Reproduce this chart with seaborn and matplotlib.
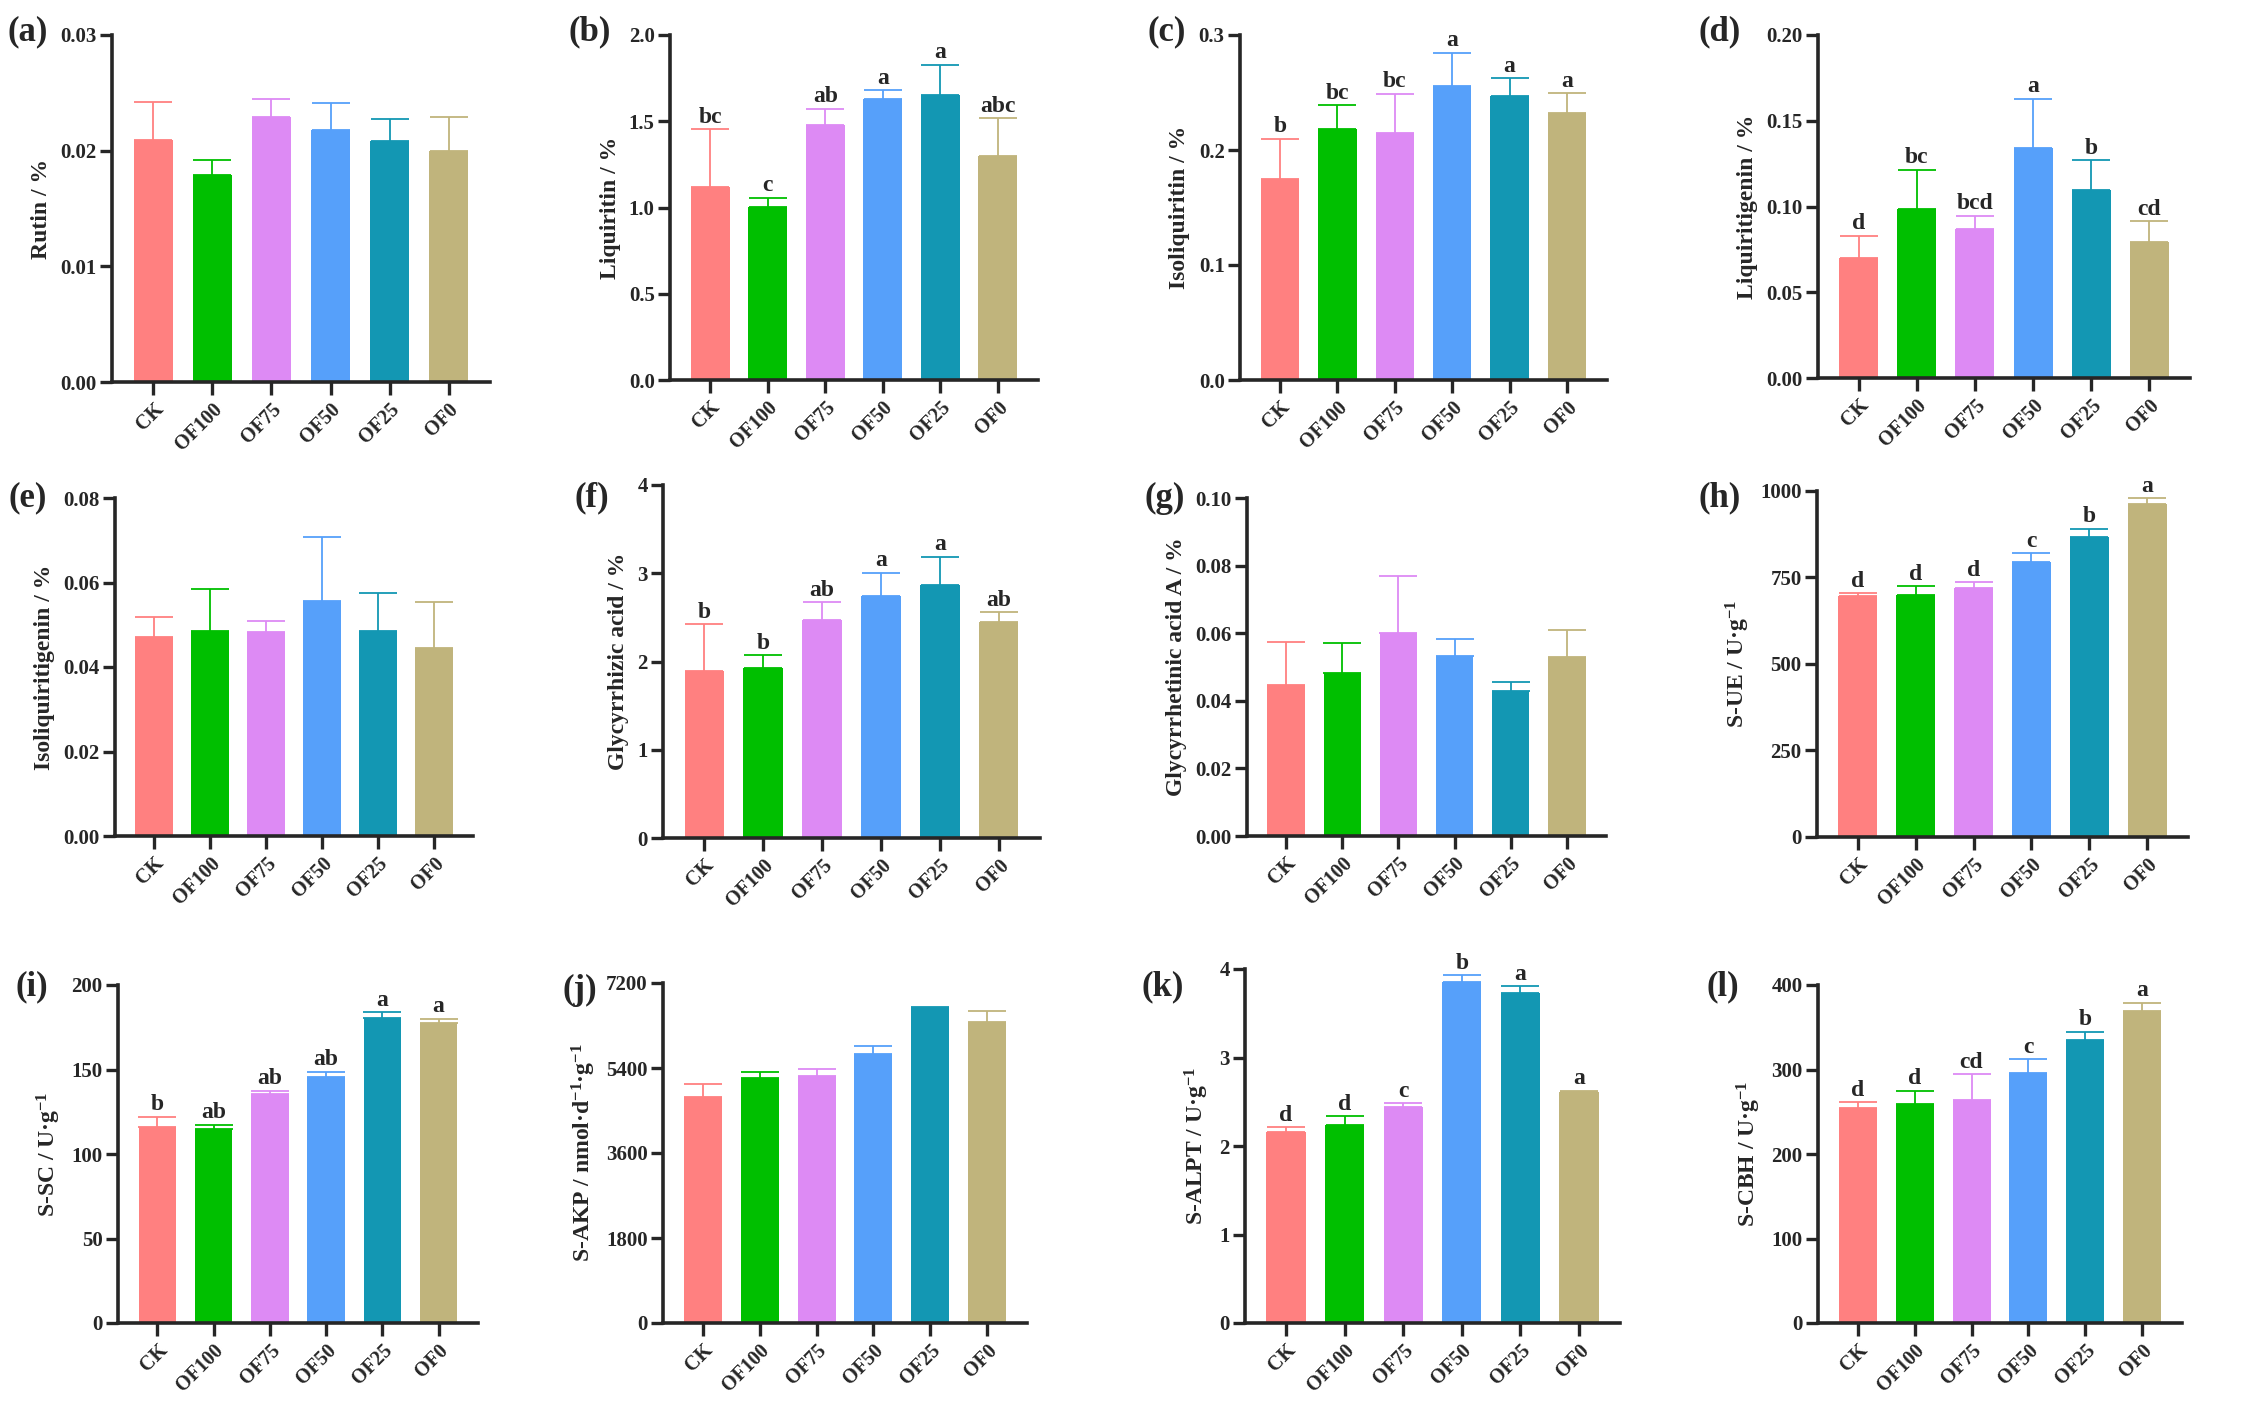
import numpy as np
import pandas as pd
import seaborn as sns
import matplotlib
matplotlib.use("Agg")
import matplotlib.pyplot as plt
from matplotlib.ticker import FormatStrFormatter

groups = ["CK", "OF100", "OF75", "OF50", "OF25", "OF0"]
colors = ["#FF8080", "#00BF00", "#DD8AF4", "#56A0FA", "#1397B3", "#C0B47C"]

rutin = [0.0209, 0.0179, 0.0229, 0.0218, 0.0208, 0.0200]
rutin_err = [0.0033, 0.0013, 0.0016, 0.0023, 0.0019, 0.0029]

liquiritin = [1.121, 1.003, 1.476, 1.627, 1.652, 1.300]
liquiritin_err = [0.332, 0.054, 0.097, 0.054, 0.176, 0.217]
liquiritin_sig = ["bc", "c", "ab", "a", "a", "abc"]

isoliquiritin = [0.175, 0.218, 0.2145, 0.2557, 0.247, 0.2325]
isoliquiritin_err = [0.035, 0.021, 0.0345, 0.029, 0.0153, 0.017]
isoliquiritin_sig = ["b", "bc", "bc", "a", "a", "a"]

liquiritigenin = [0.0697, 0.0988, 0.0870, 0.1344, 0.1097, 0.0794]
liquiritigenin_err = [0.0132, 0.0226, 0.0076, 0.0285, 0.0173, 0.0121]
liquiritigenin_sig = ["d", "bc", "bcd", "a", "b", "cd"]

isoliquiritigenin = [0.0472, 0.0485, 0.0483, 0.0556, 0.0486, 0.0446]
isoliquiritigenin_err = [0.0047, 0.0100, 0.0026, 0.0152, 0.0088, 0.0109]

glycyrrhizic = [1.890, 1.925, 2.472, 2.740, 2.868, 2.453]
glycyrrhizic_err = [0.533, 0.143, 0.203, 0.268, 0.321, 0.109]
glycyrrhizic_sig = ["b", "b", "ab", "a", "a", "ab"]

glycyrrhetinic = [0.0447, 0.0482, 0.0600, 0.0533, 0.0428, 0.0531]
glycyrrhetinic_err = [0.0128, 0.0089, 0.0170, 0.0050, 0.0028, 0.0077]

s_ue = [696, 700, 719, 796, 866, 963]
s_ue_err = [8, 25, 17, 25, 25, 16]
s_ue_sig = ["d", "d", "d", "c", "b", "a"]

s_sc = [116.1, 114.5, 135.6, 145.6, 180.3, 177.7]
s_sc_err = [5.9, 2.9, 1.9, 3.2, 3.7, 2.4]
s_sc_sig = ["b", "ab", "ab", "ab", "a", "a"]

s_akp = [4786, 5188, 5231, 5689, 6671, 6367]
s_akp_err = [268, 120, 141, 170, 21, 240]

s_alpt = [2.162, 2.237, 2.437, 3.857, 3.733, 2.606]
s_alpt_err = [0.053, 0.098, 0.049, 0.075, 0.075, 0.019]
s_alpt_sig = ["d", "d", "c", "b", "a", "a"]

s_cbh = [255.0, 259.7, 263.6, 296.0, 335.4, 368.9]
s_cbh_err = [6.3, 15.4, 30.7, 16.5, 9.5, 10.2]
s_cbh_sig = ["d", "d", "cd", "c", "b", "a"]

panels = [
    ("(a)", "Rutin / %", rutin, rutin_err, None, [0, 0.01, 0.02, 0.03], "%.2f"),
    ("(b)", "Liquiritin / %", liquiritin, liquiritin_err, liquiritin_sig, [0, 0.5, 1.0, 1.5, 2.0], "%.1f"),
    ("(c)", "Isoliquiritin / %", isoliquiritin, isoliquiritin_err, isoliquiritin_sig, [0, 0.1, 0.2, 0.3], "%.1f"),
    ("(d)", "Liquiritigenin / %", liquiritigenin, liquiritigenin_err, liquiritigenin_sig,
     [0, 0.05, 0.10, 0.15, 0.20], "%.2f"),
    ("(e)", "Isoliquiritigenin / %", isoliquiritigenin, isoliquiritigenin_err, None,
     [0, 0.02, 0.04, 0.06, 0.08], "%.2f"),
    ("(f)", "Glycyrrhizic acid / %", glycyrrhizic, glycyrrhizic_err, glycyrrhizic_sig, [0, 1, 2, 3, 4], "%d"),
    ("(g)", "Glycyrrhetinic acid A / %", glycyrrhetinic, glycyrrhetinic_err, None,
     [0, 0.02, 0.04, 0.06, 0.08, 0.10], "%.2f"),
    ("(h)", r"S-UE / U·g$^{-1}$", s_ue, s_ue_err, s_ue_sig, [0, 250, 500, 750, 1000], "%d"),
    ("(i)", r"S-SC / U·g$^{-1}$", s_sc, s_sc_err, s_sc_sig, [0, 50, 100, 150, 200], "%d"),
    ("(j)", r"S-AKP / nmol·d$^{-1}$·g$^{-1}$", s_akp, s_akp_err, None, [0, 1800, 3600, 5400, 7200], "%d"),
    ("(k)", r"S-ALPT / U·g$^{-1}$", s_alpt, s_alpt_err, s_alpt_sig, [0, 1, 2, 3, 4], "%d"),
    ("(l)", r"S-CBH / U·g$^{-1}$", s_cbh, s_cbh_err, s_cbh_sig, [0, 100, 200, 300, 400], "%d"),
]

# axes boxes in pixels: left, top, right, bottom ; panel label centre x, y
boxes = [
    (112, 35, 490, 382, 28, 32), (670, 35, 1038, 380, 590, 32),
    (1240, 35, 1607, 380, 1167, 32), (1818, 35, 2190, 378, 1720, 32),
    (115, 498, 473, 836, 28, 498), (663, 485, 1040, 838, 592, 498),
    (1247, 498, 1606, 836, 1165, 498), (1817, 491, 2188, 837, 1720, 498),
    (118, 985, 478, 1323, 32, 987), (663, 983, 1027, 1323, 580, 990),
    (1245, 969, 1620, 1323, 1163, 987), (1818, 985, 2182, 1323, 1723, 987),
]

W, H = 2255, 1405
sns.set_style("ticks")
plt.rcParams["font.family"] = ["Liberation Serif", "DejaVu Serif"]
plt.rcParams["font.weight"] = "bold"
plt.rcParams["axes.labelweight"] = "bold"
plt.rcParams["mathtext.fontset"] = "custom"
plt.rcParams["mathtext.rm"] = "Liberation Serif:bold"
plt.rcParams["mathtext.it"] = "Liberation Serif:bold"
plt.rcParams["mathtext.bf"] = "Liberation Serif:bold"
plt.rcParams["mathtext.default"] = "rm"

fig = plt.figure(figsize=(W / 100, H / 100), dpi=100)

for (label, ylab, vals, errs, sig, yticks, fmt), box in zip(panels, boxes):
    l, t, r, b, lx, ly = box
    ax = fig.add_axes([l / W, 1 - b / H, (r - l) / W, (b - t) / H])
    df = pd.DataFrame({"group": groups, "value": vals})
    sns.barplot(data=df, x="group", y="value", hue="group", palette=colors,
                saturation=1, width=0.67, linewidth=0, errorbar=None,
                legend=False, ax=ax)
    for i, (v, e) in enumerate(zip(vals, errs)):
        ax.errorbar(i, v, yerr=[[0], [e]], fmt="none", ecolor=colors[i],
                    elinewidth=1.3, capsize=14, capthick=1.3, zorder=1)
        if sig:
            ax.annotate(sig[i], (i, v + e), xytext=(0, 1), textcoords="offset points",
                        ha="center", va="bottom", fontsize=17, fontweight="bold")
    ax.set_xlim(-0.7, 5.7)
    ax.set_ylim(0, yticks[-1])
    ax.set_yticks(yticks)
    ax.yaxis.set_major_formatter(FormatStrFormatter(fmt))
    ax.set_xlabel("")
    ax.set_ylabel(ylab, fontsize=17, fontweight="bold", labelpad=6)
    sns.despine(ax=ax)
    for side in ["left", "bottom"]:
        ax.spines[side].set_linewidth(2.6)
    ax.tick_params(axis="both", direction="out", length=9, width=2.4, labelsize=15)
    ax.tick_params(axis="y", pad=2)
    ax.set_xticks(range(len(groups)))
    ax.set_xticklabels(groups, rotation=45, ha="right", rotation_mode="anchor",
                       fontsize=14.5, fontweight="bold")
    for tl in ax.get_yticklabels():
        tl.set_fontweight("bold")
    fig.text(lx / W, 1 - ly / H, label, fontsize=25, fontweight="bold",
             ha="center", va="center")

fig.savefig("out.png", dpi=100, facecolor="white")
